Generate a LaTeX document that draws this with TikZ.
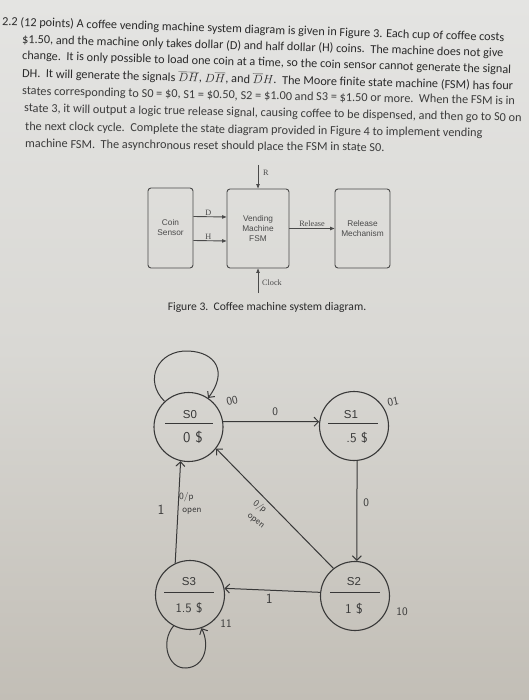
\documentclass[tikz,border=0pt]{standalone}
\usepackage{fontspec}
\setmainfont{Carlito}
\newfontfamily\arialf{Liberation Sans}
\newfontfamily\timesf{Liberation Serif}
\usetikzlibrary{arrows.meta}
\definecolor{ink}{HTML}{2A2A2A}
\definecolor{inkb}{HTML}{3C3C3C}
\definecolor{boxc}{HTML}{4A4A4A}
\definecolor{pen}{HTML}{383838}
\definecolor{papertop}{HTML}{E4E4E2}
\definecolor{papermid}{HTML}{D9D8D4}
\definecolor{paperbot}{HTML}{C2BEB6}
\begin{document}
\begin{tikzpicture}[x=1pt,y=-1pt,
  tline/.style={anchor=west, inner sep=0pt, font=\fontsize{12.25}{14}\selectfont, text=ink},
  tlineb/.style={tline, text=inkb},
  blk/.style={draw=boxc, line width=0.9pt, rounded corners=3pt, inner sep=0pt, align=center,
    font=\arialf\fontsize{8.3}{10}\selectfont, text=boxc},
  sig/.style={-{Triangle[length=4.5pt,width=3.4pt]}, line width=0.9pt, draw=boxc},
  siglab/.style={font=\timesf\fontsize{8.2}{9}\selectfont, text=boxc, inner sep=1pt},
  state/.style={circle, draw=pen, line width=1.1pt, minimum size=69pt, inner sep=0pt},
  stname/.style={font=\arialf\fontsize{11.5}{12}\selectfont, text=pen, inner sep=0pt},
  hand/.style={font=\sffamily\fontsize{11.5}{12}\selectfont, text=pen, inner sep=0pt},
  handsm/.style={font=\sffamily\fontsize{9.5}{13}\selectfont, text=pen, inner sep=0pt, align=left},
  pline/.style={draw=pen, line width=1pt},
  harrow/.style={pline, -{Straight Barb[length=4.5pt,width=9pt]}}
]
\useasboundingbox (0,0) rectangle (529,700);
\shade[top color=papertop, bottom color=paperbot, middle color=papermid] (0,0) rectangle (529,700);

% ---- problem text
\node[tline, rotate=-1.8] (t1) at (2,22) {2.2 (12 points) A coffee vending machine system diagram is given in Figure 3. Each cup of coffee costs};
\node[tline, rotate=-1.65] (t2) at (22,39.7) {\$1.50, and the machine only takes dollar (D) and half dollar (H) coins.\ \ The machine does not give};
\node[tline, rotate=-1.65] (t3) at (22,56) {change.\ \ It is only possible to load one coin at a time, so the coin sensor cannot generate the signal};
\node[tline, rotate=-1.5] (t4) at (22,73.2) {DH.\ \ It will generate the signals $\overline{D}\overline{H}$, $D\overline{H}$, and $\overline{D}H$.\ \ The Moore finite state machine (FSM) has four};
\node[tlineb, rotate=-1.15] (t5) at (22,91.6) {states corresponding to S0 = \$0, S1 = \$0.50, S2 = \$1.00 and S3 = \$1.50 or more.\ \ When the FSM is in};
\node[tlineb, rotate=-1.1] (t6) at (24,108.7) {state 3, it will output a logic true release signal, causing coffee to be dispensed, and then go to S0 on};
\node[tlineb, rotate=-0.85] (t7) at (25,127) {the next clock cycle.\ \ Complete the state diagram provided in Figure 4 to implement vending};
\node[tlineb, rotate=-0.6] (t8) at (25,144.3) {machine FSM.\ \ The asynchronous reset should place the FSM in state S0.};

% ---- block diagram (Figure 3)
\node[blk, minimum width=45pt, minimum height=80pt] (coin) at (170.5,228) {Coin\\Sensor};
\node[blk, minimum width=62pt, minimum height=79pt] (vm) at (258,228.5) {Vending\\Machine\\FSM};
\node[blk, minimum width=55pt, minimum height=79pt] (rel) at (362.5,228.5) {Release\\Mechanism};
\coordinate (rin) at (258,165);
\coordinate (clkin) at (258,293);
\draw[sig] ([yshift=11.5pt]coin.east) -- node[siglab, above, pos=0.45] {D} ([yshift=11.5pt]vm.west);
\draw[sig] ([yshift=-12.5pt]coin.east) -- node[siglab, above, pos=0.45] {H} ([yshift=-12.5pt]vm.west);
\draw[sig] (vm.east) -- node[siglab, above, pos=0.5] {Release} (rel.west);
\draw[sig] (rin) -- (vm.north);
\node[siglab, anchor=west] (rlab) at (262,173) {R};
\draw[sig] (clkin) -- (vm.south);
\node[siglab, anchor=west] (clklab) at (261,283) {Clock};
\node[font=\fontsize{11.6}{12}\selectfont, text=ink, inner sep=0pt] (cap) at (267,307) {Figure 3.\ \ Coffee machine system diagram.};

% ---- state diagram (hand drawn)
\node[state] (s0) at (188.5,427) {};
\node[state] (s1) at (354,426) {};
\node[state] (s2) at (355,596) {};
\node[state] (s3) at (190,595) {};

\node[stname] (s0n) at (190,414.5) {S0};
\draw[pline] (165,423) -- (213,423);
\node[hand, font=\sffamily\fontsize{15}{15}\selectfont] (s0v) at (193,437) {0 \$};
\node[stname] (s1n) at (351,414.5) {S1};
\draw[pline] (328,423) -- (378,423);
\node[hand, font=\sffamily\fontsize{13.5}{14}\selectfont] (s1v) at (357,438) {.5 \$};
\node[stname] (s3n) at (189,582) {S3};
\draw[pline] (164,592) -- (214,592);
\node[hand, font=\sffamily\fontsize{13}{14}\selectfont] (s3v) at (189,608) {1.5 \$};
\node[stname] (s2n) at (354,582) {S2};
\draw[pline] (330,592) -- (380,592);
\node[hand, font=\sffamily\fontsize{13.5}{14}\selectfont] (s2v) at (354,609) {1 \$};

\node[hand, rotate=12] (c00) at (232,401) {00};
\node[hand, rotate=12] (c01) at (393,402) {01};
\node[hand] (c10) at (402,612) {10};
\node[hand] (c11) at (226,624) {11};

% transitions
\draw[harrow] (s0.9) -- node[hand, above=5pt, xshift=4pt] {0} (s1.173);
\draw[harrow] (s1.-85) -- node[hand, right=6pt, pos=0.42] {0} (s2.87);
\draw[harrow] (s2.174) -- node[hand, font=\sffamily\fontsize{14}{14}\selectfont, below=3pt, xshift=-3pt] {1} (s3.11);
\draw[harrow] (s2.128) -- (s0.-38);
\node[handsm, rotate=-38] (dlab) at (259,514) {0/p\\ \ open};
\draw[harrow] (s3.115) -- (s0.-103);
\node[hand, font=\sffamily\fontsize{14}{14}\selectfont] (one3) at (161,510) {1};
\node[handsm, anchor=west] (vlab) at (179,503) {0/p\\ \ open};

% self loops
\draw[harrow] (s0.133) .. controls (143,380) and (158,350) .. (188,351)
  .. controls (216,352) and (228,372) .. (s0.56);
\draw[harrow] (s3.-118) .. controls (160,642) and (168,669) .. (186,668)
  .. controls (205,667) and (210,645) .. (s3.-71);
\end{tikzpicture}
\end{document}
